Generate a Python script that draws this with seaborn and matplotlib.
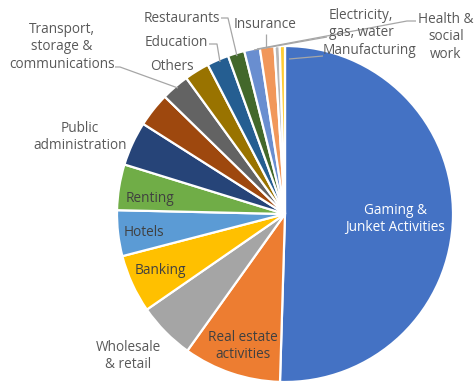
import numpy as np
import matplotlib
matplotlib.use("Agg")
import matplotlib.pyplot as plt
import seaborn as sns

# Share of GDP by industry (%), drawn clockwise from 12 o'clock
industries = [
    "Gaming &\nJunket Activities", "Real estate\nactivities", "Wholesale\n& retail",
    "Banking", "Hotels", "Renting", "Public\nadministration", "Construction",
    "Transport,\nstorage &\ncommunications", "Others", "Education", "Restaurants",
    "Electricity,\ngas, water", "Insurance", "Health &\nsocial\nwork", "Manufacturing",
]
shares = [50.5, 9.4, 5.5, 5.6, 4.4, 4.4, 4.25, 3.3, 2.7, 2.4, 2.1, 1.6, 1.5, 1.4, 0.5, 0.5]
colors = [
    "#4472C4", "#ED7D31", "#A5A5A5", "#FFC000", "#5B9BD5", "#70AD47", "#264478", "#9E480E",
    "#636363", "#997300", "#255E91", "#43682B", "#698ED0", "#F1975A", "#B7B7B7", "#FFCD33",
]

sns.set_theme(style="white")
plt.rcParams["font.family"] = ["Open Sans", "DejaVu Sans"]

W, H = 475, 382
fig = plt.figure(figsize=(W / 100, H / 100), dpi=100)
ax = fig.add_axes([0, 0, 1, 1])

cx, cy, R = 285, H - 214, 168
wedges, _ = ax.pie(
    shares, colors=colors, startangle=90, counterclock=False,
    center=(cx, cy), radius=R,
    wedgeprops=dict(edgecolor="white", linewidth=1.6),
)
ax.set_xlim(0, W)
ax.set_ylim(0, H)
ax.set_aspect("equal")
ax.axis("off")

FS = 9.8
GREY = "#595959"
LEAD = "#A6A6A6"


def put(i, x, y, color=GREY):
    ax.text(x, H - y, industries[i], ha="center", va="center", fontsize=FS,
            color=color, linespacing=1.2)


def leader(points):
    xs = [p[0] for p in points]
    ys = [H - p[1] for p in points]
    ax.plot(xs, ys, color=LEAD, lw=0.9, solid_capstyle="butt")


# labels inside the pie
put(0, 395, 219, color="white")
put(1, 243, 346, color="#404040")
put(3, 160, 270, color="#404040")
put(4, 144, 232, color="#404040")
put(5, 150, 198, color="#404040")

# labels outside the pie
put(2, 128, 356)
put(6, 80, 137)
put(8, 62, 47)
put(9, 172, 67)
put(10, 176, 43)
put(11, 182, 18)
put(12, 361, 24)
put(13, 265, 25)
put(14, 446, 37)
put(15, 370, 51)

# leader lines
leader([(115, 67), (120, 67), (178, 88)])
leader([(209, 44), (217, 44), (220, 62)])
leader([(221, 18), (228, 18), (237, 56)])
leader([(266, 34), (266, 48)])
leader([(327, 37), (254, 50)])
leader([(416, 21), (407, 21), (257, 49)])
leader([(323, 56), (289, 59)])

fig.savefig("out.png", dpi=100)
